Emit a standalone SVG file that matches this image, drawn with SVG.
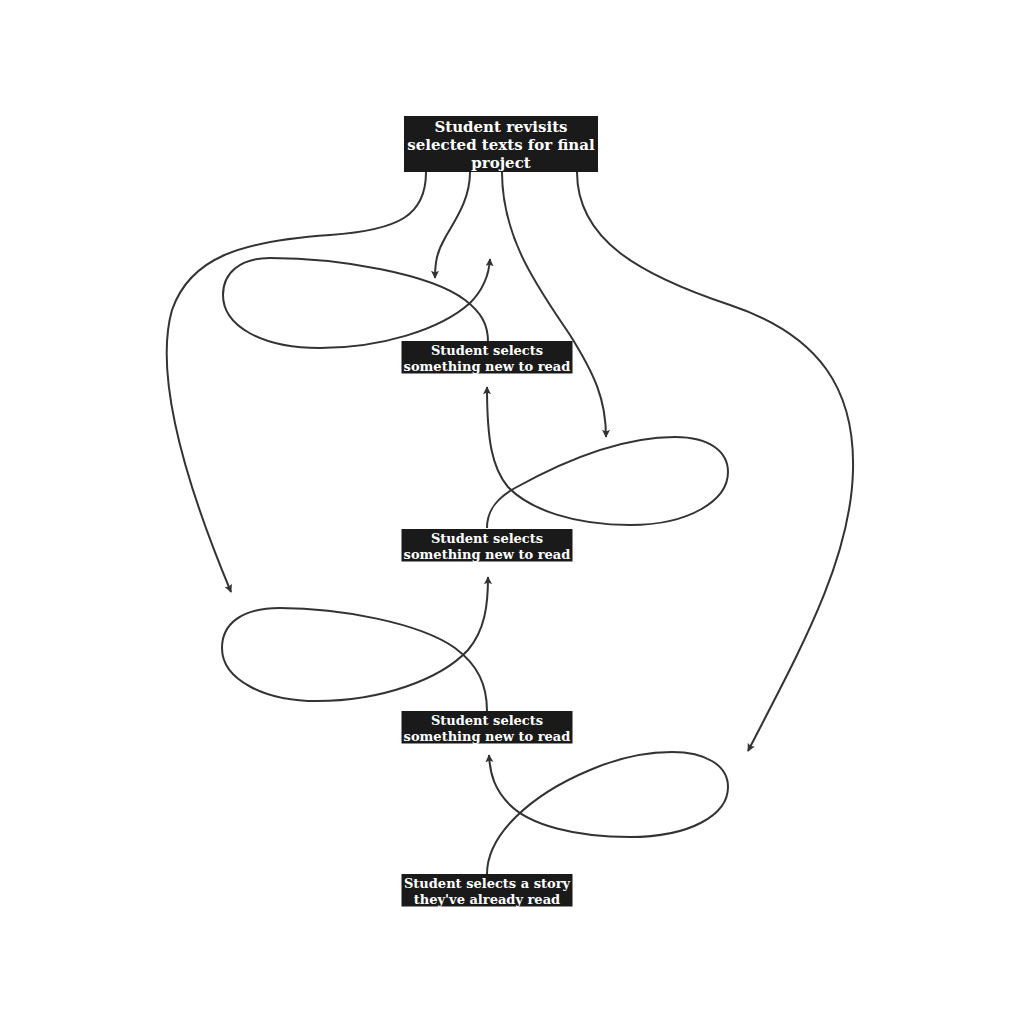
<svg xmlns="http://www.w3.org/2000/svg" width="1024" height="1017" viewBox="0 0 1024 1017">
<style>
.node rect{fill:#1a1a1a;}
.node text{fill:#ffffff;font-family:"DejaVu Serif","Liberation Serif",serif;font-weight:bold;text-anchor:middle;}
.small text{font-size:13px;}
.big text{font-size:15px;}
.edge{fill:none;stroke:#333333;stroke-width:2;marker-end:url(#arrow);}
</style>
<defs>
<marker id="arrow" viewBox="0 0 10 10" refX="9" refY="5" markerWidth="8" markerHeight="8" markerUnits="userSpaceOnUse" orient="auto">
<path d="M0,0 L10,5 L0,10 L2,5 Z" fill="#333333"/>
</marker>
</defs>
<rect width="1024" height="1017" fill="#ffffff"/>
<g id="connectors">
<path class="edge" d="M426,172 C426,215 400,230 330,235 C240,241 190,258 172,310 C155,370 180,470 231,592"/>
<path class="edge" d="M470,172 C470,200 455,220 445,238 C437,252 435,262 435,278"/>
<path class="edge" d="M502,172 C502,240 540,290 570,335 C595,375 606,400 606,437"/>
<path class="edge" d="M577,172 C577,240 640,275 730,305 C820,335 855,390 853,470 C851,560 800,650 748,751"/>
<path class="edge" d="M488,342 C488,325 482,313 465,300 C431,274 340,258 270,258 C240,258 223,273 223,295 C223,325 260,348 320,348 C380,348 440,330 470,303 C483,290 489,275 490,259"/>
<path class="edge" d="M487,528 C487,510 497,498 515,488 C560,463 620,437 675,437 C710,437 728,452 728,472 C728,500 690,525 630,525 C575,525 530,510 508,487 C492,468 487,440 487,387"/>
<path class="edge" d="M487,711 C487,685 478,665 455,648 C420,623 340,608 280,608 C240,608 222,625 222,648 C222,680 265,701 317,701 C380,701 440,680 468,650 C485,630 488,605 488,577"/>
<path class="edge" d="M487,874 C487,835 530,795 590,770 C620,757 645,752 672,752 C705,752 728,765 728,787 C728,815 690,837 630,837 C575,837 530,825 510,805 C495,790 490,775 489,755"/>
</g>
<g id="node-top" class="node big">
<rect x="404" y="116" width="194" height="56"/>
<text x="501" y="132">Student revisits</text>
<text x="501" y="150">selected texts for final</text>
<text x="501" y="168">project</text>
</g>
<g id="node-new1" class="node small">
<rect x="401.5" y="341" width="171" height="32.5"/>
<text x="487" y="355">Student selects</text>
<text x="487" y="371">something new to read</text>
</g>
<g id="node-new2" class="node small">
<rect x="401.5" y="529" width="171" height="32.5"/>
<text x="487" y="543">Student selects</text>
<text x="487" y="559">something new to read</text>
</g>
<g id="node-new3" class="node small">
<rect x="401.5" y="711" width="171" height="32.5"/>
<text x="487" y="725">Student selects</text>
<text x="487" y="741">something new to read</text>
</g>
<g id="node-story" class="node small">
<rect x="401.5" y="874" width="171" height="32.5"/>
<text x="487" y="888">Student selects a story</text>
<text x="487" y="904">they've already read</text>
</g>
</svg>
